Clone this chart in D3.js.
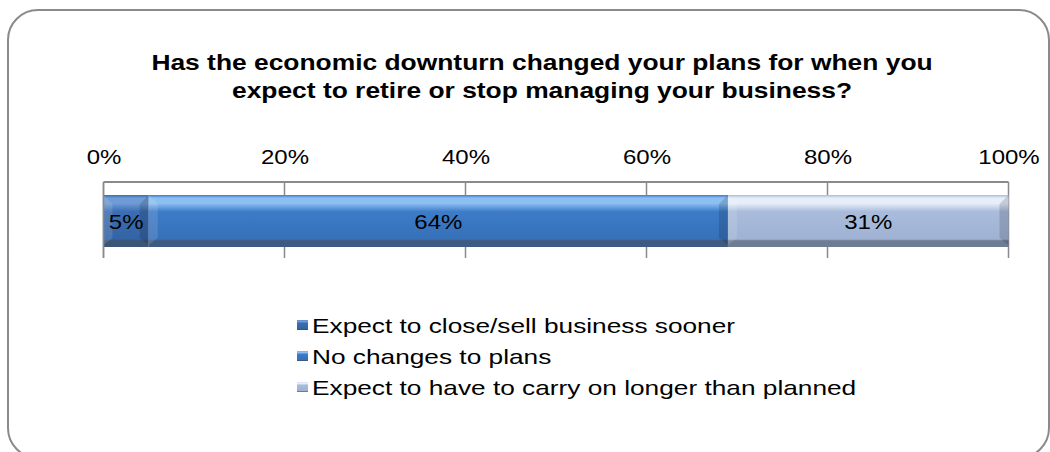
<!DOCTYPE html>
<html>
<head>
<meta charset="utf-8">
<script src="https://cdn.jsdelivr.net/npm/d3@7"></script>
<style>
  html, body { margin: 0; padding: 0; background: #fff; }
  svg { display: block; font-family: "Liberation Sans", Arial, sans-serif; }
</style>
</head>
<body>
<svg id="chart" width="1050" height="452"></svg>
<script>
// Survey answers (percent of respondents)
const categories = [
  "Expect to close/sell business sooner",
  "No changes to plans",
  "Expect to have to carry on longer than planned"
];
const values = [5, 64, 31];
const tickValues = [0, 20, 40, 60, 80, 100];
const titleLines = [
  "Has the economic downturn changed your plans for when you",
  "expect to retire or stop managing your business?"
];

// Fill styles per segment: [top highlight, body, lower body, bottom edge]
const palettes = [
  ["#6f9bd6", "#3a6db2", "#3464a4", "#3a5576"],
  ["#8cc0f2", "#3d7cc8", "#3670b8", "#3f5a80"],
  ["#e6eefa", "#a9bcdc", "#9fb2d3", "#6f7d92"]
];

// Text is drawn slightly widened horizontally
const stretch = 1.2;

const svg = d3.select("#chart");

// Rounded frame
svg.append("rect")
  .attr("x", 8).attr("y", 10)
  .attr("width", 1041).attr("height", 448)
  .attr("rx", 30).attr("ry", 30)
  .attr("fill", "#fff")
  .attr("stroke", "#8a8a8a")
  .attr("stroke-width", 2);

// Title
svg.append("g")
  .selectAll("text")
  .data(titleLines)
  .join("text")
  .attr("transform", (d, i) => `translate(542,${70 + i * 28}) scale(${stretch},1)`)
  .attr("text-anchor", "middle")
  .attr("font-size", 22)
  .attr("font-weight", "bold")
  .attr("fill", "#000")
  .text(d => d);

// Scales
const x = d3.scaleLinear().domain([0, 100]).range([103.5, 1008.5]);
const plotTop = 182, plotBottom = 258;
const barTop = 195, barBottom = 247;
const barH = barBottom - barTop;

// Gradients
const defs = svg.append("defs");
palettes.forEach((p, i) => {
  const g = defs.append("linearGradient")
    .attr("id", "seg" + i)
    .attr("x1", 0).attr("y1", 0).attr("x2", 0).attr("y2", 1);
  g.append("stop").attr("offset", "0%").attr("stop-color", p[1]);
  g.append("stop").attr("offset", "6%").attr("stop-color", p[0]);
  g.append("stop").attr("offset", "16%").attr("stop-color", p[0]);
  g.append("stop").attr("offset", "32%").attr("stop-color", p[1]);
  g.append("stop").attr("offset", "85%").attr("stop-color", p[2]);
  g.append("stop").attr("offset", "88%").attr("stop-color", p[3]);
  g.append("stop").attr("offset", "100%").attr("stop-color", p[3]);
});

// Gridlines across the plot area
svg.append("g")
  .selectAll("line")
  .data(tickValues)
  .join("line")
  .attr("x1", d => x(d)).attr("x2", d => x(d))
  .attr("y1", plotTop).attr("y2", plotBottom)
  .attr("stroke", "#8a8a8a")
  .attr("stroke-width", 1.5);

// Top axis line
svg.append("line")
  .attr("x1", x(0)).attr("x2", x(100))
  .attr("y1", plotTop).attr("y2", plotTop)
  .attr("stroke", "#8a8a8a")
  .attr("stroke-width", 2);

// Axis tick labels
const axis = d3.axisTop(x)
  .tickValues(tickValues)
  .tickFormat(d => d + "%")
  .tickSize(0)
  .tickPadding(0);
const axisG = svg.append("g")
  .attr("transform", `translate(0,${plotTop - 18})`)
  .call(axis);
axisG.select(".domain").remove();
axisG.selectAll("text")
  .attr("font-size", 20)
  .attr("dy", 0)
  .attr("font-family", "'Liberation Sans', Arial, sans-serif")
  .attr("fill", "#000")
  .attr("transform", `scale(${stretch},1)`);

// Stacked segments
let acc = 0;
const segs = values.map((v, i) => {
  const s = { i, v, x0: acc, x1: acc + v };
  acc += v;
  return s;
});

const bars = svg.append("g");
segs.forEach(s => {
  const x0 = x(s.x0), x1 = x(s.x1);
  const g = bars.append("g");
  g.append("rect")
    .attr("x", x0).attr("y", barTop)
    .attr("width", x1 - x0).attr("height", barH)
    .attr("fill", `url(#seg${s.i})`);
  // bevel shading on the side edges
  const b = 9;
  g.append("path")
    .attr("d", `M${x0},${barTop} L${x0 + b},${barTop + b} L${x0 + b},${barBottom - b} L${x0},${barBottom - 2} Z`)
    .attr("fill", "#fff").attr("opacity", 0.12);
  g.append("path")
    .attr("d", `M${x1},${barTop} L${x1 - b},${barTop + b} L${x1 - b},${barBottom - b} L${x1},${barBottom - 2} Z`)
    .attr("fill", "#000").attr("opacity", 0.14);
  // value label
  g.append("text")
    .attr("transform", `translate(${(x0 + x1) / 2},${(barTop + barBottom) / 2 + 8}) scale(${stretch},1)`)
    .attr("text-anchor", "middle")
    .attr("font-size", 20)
    .attr("fill", "#000")
    .text(s.v + "%");
});

// Left axis line
svg.append("line")
  .attr("x1", x(0)).attr("x2", x(0))
  .attr("y1", plotTop).attr("y2", plotBottom)
  .attr("stroke", "#8a8a8a")
  .attr("stroke-width", 1.5);

// Legend
const legendY = [325, 356, 387];
const legend = svg.append("g").attr("transform", "translate(297,0)");
categories.forEach((c, i) => {
  const g = legend.append("g").attr("transform", `translate(0,${legendY[i]})`);
  g.append("rect")
    .attr("x", 0).attr("y", -5)
    .attr("width", 11).attr("height", 10)
    .attr("fill", `url(#seg${i})`);
  g.append("text")
    .attr("transform", `translate(15,8) scale(1.25,1)`)
    .attr("font-size", 21)
    .attr("fill", "#000")
    .text(c);
});
</script>
</body>
</html>
